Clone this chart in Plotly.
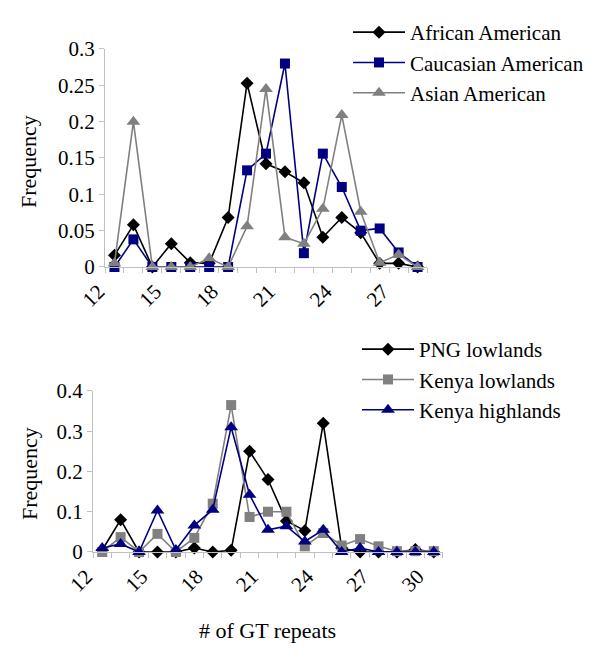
import plotly.graph_objects as go

# ---------------- data ----------------
top_repeats = [12, 13, 14, 15, 16, 17, 18, 19, 20, 21, 22, 23, 24, 25, 26, 27, 28]
african_american = [0.016, 0.058, 0.0, 0.032, 0.006, 0.005, 0.068, 0.253, 0.142, 0.131,
                    0.116, 0.041, 0.068, 0.047, 0.005, 0.005, 0.0]
caucasian_american = [0.0, 0.038, 0.0, 0.0, 0.0, 0.0, 0.0, 0.133, 0.156, 0.28,
                      0.019, 0.156, 0.11, 0.05, 0.053, 0.02, 0.0]
asian_american = [0.005, 0.2, 0.0, 0.0, 0.0, 0.012, 0.0, 0.056, 0.245, 0.041,
                  0.032, 0.08, 0.209, 0.076, 0.006, 0.017, 0.0]

bottom_repeats = [12, 13, 14, 15, 16, 17, 18, 19, 20, 21, 22, 23, 24, 25, 26, 27, 28, 29, 30]
png_lowlands = [0.005, 0.08, 0.0, 0.0, 0.0, 0.01, 0.0, 0.004, 0.25, 0.18,
                0.077, 0.053, 0.32, 0.01, 0.0, 0.0, 0.0, 0.006, 0.0]
kenya_lowlands = [0.0, 0.037, 0.0, 0.045, 0.0, 0.035, 0.12, 0.365, 0.087, 0.1,
                  0.1, 0.014, 0.047, 0.016, 0.032, 0.014, 0.002, 0.002, 0.002]
kenya_highlands = [0.01, 0.02, 0.0, 0.103, 0.005, 0.066, 0.105, 0.31, 0.142, 0.055,
                   0.064, 0.026, 0.055, 0.0, 0.01, 0.0, 0.0, 0.0, 0.0]

top_xticks = [12, 15, 18, 21, 24, 27]
bottom_xticks = [12, 15, 18, 21, 24, 27, 30]
top_yticks = [0, 0.05, 0.1, 0.15, 0.2, 0.25, 0.3]
top_yticktext = ["0", "0.05", "0.1", "0.15", "0.2", "0.25", "0.3"]
bottom_yticks = [0, 0.1, 0.2, 0.3, 0.4]
bottom_yticktext = ["0", "0.1", "0.2", "0.3", "0.4"]

# ---------------- styling ----------------
FONT = "Liberation Serif"
BLACK = "#000000"
NAVY = "#000080"
GRAY = "#808080"
AXIS = "#c0c0c0"

fig = go.Figure()


def add_series(x, y, name, color, symbol, size, xa, ya, legend):
    fig.add_trace(go.Scatter(
        x=x, y=y, name=name, mode="lines+markers",
        line=dict(color=color, width=1.6),
        marker=dict(symbol=symbol, size=size, color=color, line=dict(color=color, width=0)),
        xaxis=xa, yaxis=ya, legend=legend, cliponaxis=False,
    ))


add_series(top_repeats, african_american, "African American", BLACK, "diamond", 10, "x", "y", "legend")
add_series(top_repeats, caucasian_american, "Caucasian American", NAVY, "square", 10, "x", "y", "legend")
add_series(top_repeats, asian_american, "Asian American", GRAY, "triangle-up", 12, "x", "y", "legend")

add_series(bottom_repeats, png_lowlands, "PNG lowlands", BLACK, "diamond", 10, "x2", "y2", "legend2")
add_series(bottom_repeats, kenya_lowlands, "Kenya lowlands", GRAY, "square", 10, "x2", "y2", "legend2")
add_series(bottom_repeats, kenya_highlands, "Kenya highlands", NAVY, "triangle-up", 12, "x2", "y2", "legend2")

tickfont = dict(family=FONT, size=21, color="black")


def xaxis_cfg(domain, cats, ticks, anchor):
    return dict(
        domain=domain, anchor=anchor,
        range=[cats[0] - 0.5, cats[-1] + 0.5],
        tickmode="array", tickvals=ticks, ticktext=[str(t) for t in ticks],
        ticks="", tickangle=-45, tickfont=tickfont,
        ticklabelstandoff=3, ticklabelshift=-16,
        showline=True, linecolor=AXIS, linewidth=1,
        showgrid=False, zeroline=False,
        minor=dict(tickmode="linear", tick0=cats[0] - 0.5, dtick=1,
                   ticks="outside", ticklen=5, tickcolor=AXIS, tickwidth=1, showgrid=False),
    )


def yaxis_cfg(domain, rng, tv, tt, anchor):
    return dict(
        domain=domain, anchor=anchor, range=rng,
        tickmode="array", tickvals=tv, ticktext=tt,
        ticks="outside", ticklen=5, tickcolor=AXIS, tickwidth=1,
        tickfont=tickfont,
        showline=True, linecolor=AXIS, linewidth=1,
        showgrid=False, zeroline=False,
    )


legend_font = dict(family=FONT, size=21, color="black")

fig.update_layout(
    width=600, height=662,
    margin=dict(l=0, r=0, t=0, b=0, autoexpand=False),
    paper_bgcolor="white", plot_bgcolor="white",
    font=dict(family=FONT, color="black"),
    xaxis=xaxis_cfg([0.175, 0.7117], top_repeats, top_xticks, "y"),
    yaxis=yaxis_cfg([0.5967, 0.9260], [0, 0.3], top_yticks, top_yticktext, "x"),
    xaxis2=xaxis_cfg([0.155, 0.7383], bottom_repeats, bottom_xticks, "y2"),
    yaxis2=yaxis_cfg([0.1662, 0.4094], [0, 0.4], bottom_yticks, bottom_yticktext, "x2"),
    legend=dict(x=348 / 600, y=1 - 12 / 662, xanchor="left", yanchor="top",
                font=legend_font, itemwidth=52, bgcolor="rgba(0,0,0,0)",
                tracegroupgap=0),
    legend2=dict(x=357 / 600, y=1 - 329 / 662, xanchor="left", yanchor="top",
                 font=legend_font, itemwidth=52, bgcolor="rgba(0,0,0,0)",
                 tracegroupgap=0),
    showlegend=True,
    annotations=[
        dict(text="Frequency", x=29 / 600, y=1 - 162 / 662, xref="paper", yref="paper",
             xanchor="center", yanchor="middle",
             textangle=-90, showarrow=False, font=dict(family=FONT, size=22, color="black")),
        dict(text="Frequency", x=29 / 600, y=1 - 474 / 662, xref="paper", yref="paper",
             xanchor="center", yanchor="middle",
             textangle=-90, showarrow=False, font=dict(family=FONT, size=22, color="black")),
        dict(text="# of GT repeats", x=267 / 600, y=1 - 630 / 662, xref="paper", yref="paper",
             xanchor="center", yanchor="middle",
             showarrow=False, font=dict(family=FONT, size=22, color="black")),
    ],
)

fig.write_html("out.html", config={"displayModeBar": False},
               post_script="document.body.style.margin='0';")
